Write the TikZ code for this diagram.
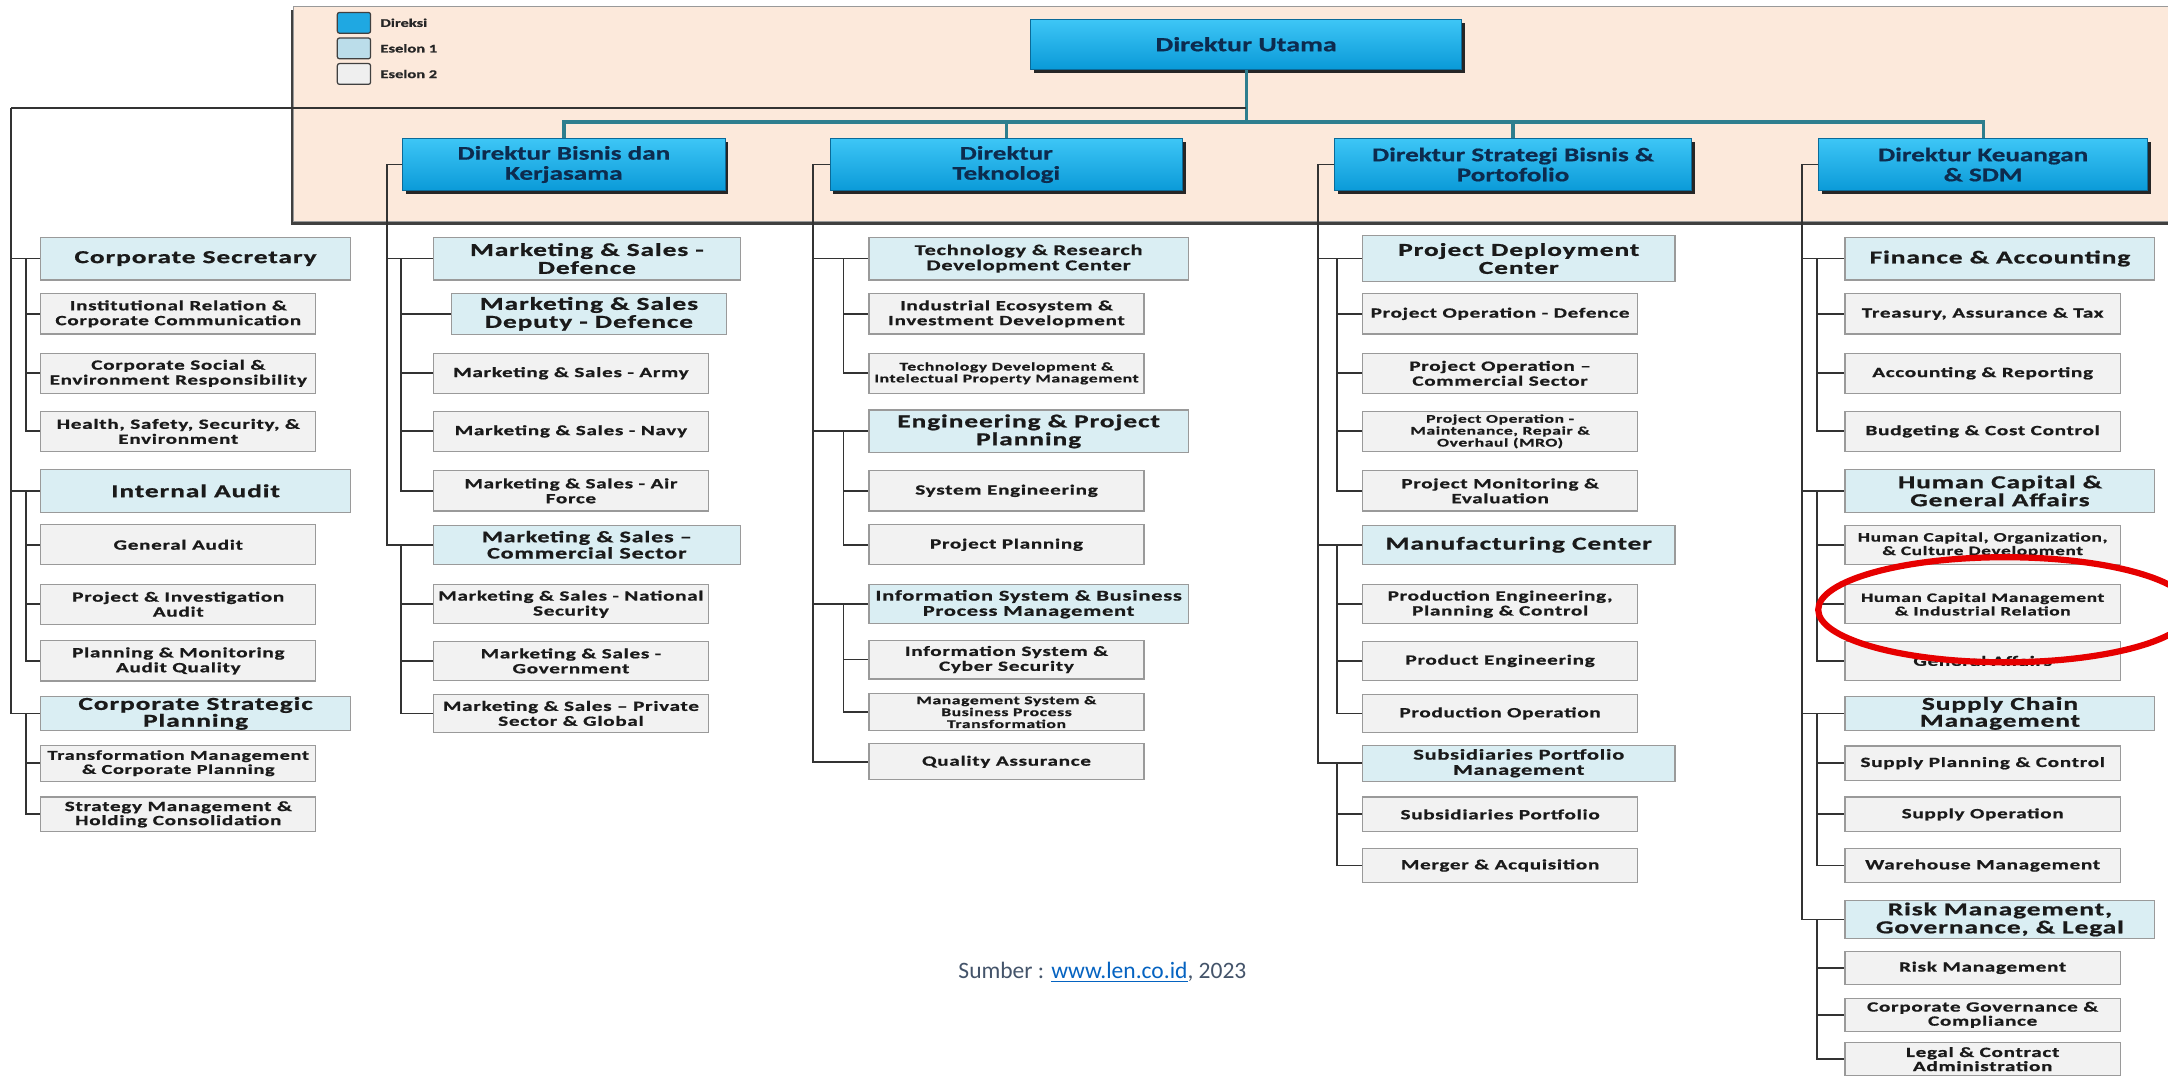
\documentclass[tikz,border=0pt]{standalone}
\usepackage{fontspec}
\usetikzlibrary{shadows}
\newfontfamily\bxfam[FakeStretch=1.5,LetterSpace=5,BoldFeatures={FakeBold=0.9}]{Carlito}
\newfontfamily\dirfam[FakeStretch=1.4,BoldFeatures={FakeBold=0.7}]{Carlito}
\newfontfamily\srcfam{Carlito}
\newcommand\fA{\bxfam\bfseries\fontsize{13.2}{13}\selectfont}
\newcommand\fAm{\bxfam\bfseries\fontsize{11.6}{11.8}\selectfont}
\newcommand\fAs{\bxfam\bfseries\fontsize{10.8}{11}\selectfont}
\newcommand\fB{\bxfam\bfseries\fontsize{10.2}{10.8}\selectfont}
\newcommand\fBm{\bxfam\bfseries\fontsize{9.3}{9.8}\selectfont}
\newcommand\fBs{\bxfam\bfseries\fontsize{8.5}{8.6}\selectfont}
\newcommand\fD{\dirfam\bfseries\fontsize{14}{14.5}\selectfont}
\newcommand\fL{\dirfam\bfseries\fontsize{8.5}{9}\selectfont}
\definecolor{peach}{HTML}{FCE9DB}
\definecolor{eonefill}{HTML}{DAEEF3}
\definecolor{etwofill}{HTML}{F2F2F2}
\definecolor{boxborder}{HTML}{9A9A9A}
\definecolor{linec}{HTML}{333333}
\definecolor{tealc}{HTML}{2E7E8E}
\definecolor{dirtop}{HTML}{3EC6F6}
\definecolor{dirbot}{HTML}{0A9AD8}
\definecolor{dirtext}{HTML}{0D2B4E}
\definecolor{dirborder}{HTML}{0B6A98}
\definecolor{txt}{HTML}{1A1A1A}
\definecolor{legblue}{HTML}{1FA8E2}
\definecolor{legone}{HTML}{BBDDEA}
\definecolor{legtwo}{HTML}{EFEFEF}
\definecolor{srcgray}{HTML}{44546A}
\definecolor{linkblue}{HTML}{0563C1}
\definecolor{redring}{HTML}{E60000}
\begin{document}
\begin{tikzpicture}[x=1pt,y=-1pt,
  base/.style={draw=boxborder, line width=0.9pt, anchor=west, inner sep=0.5pt, align=center, text=txt},
  eone/.style={base, fill=eonefill, minimum width=224pt, minimum height=31pt, font=\fA},
  etwo/.style={base, fill=etwofill, minimum width=199pt, minimum height=29pt, font=\fB},
  dir/.style={draw=dirborder, line width=0.6pt, anchor=west, top color=dirtop, bottom color=dirbot,
    minimum height=38pt, align=center, text=dirtext, font=\fD, inner sep=1pt,
    drop shadow={shadow xshift=2.5pt, shadow yshift=-2.5pt, fill=black!85, opacity=1}},
  leg/.style={draw=black!75, line width=0.9pt, minimum width=24pt, minimum height=15pt, rounded corners=1.5pt, inner sep=0pt},
  legtxt/.style={anchor=west, font=\fL, text=black!85, inner sep=0pt},
  ln/.style={draw=linec, line width=1.3pt},
  tl/.style={draw=tealc, line width=2.4pt}]
\useasboundingbox (0,0) rectangle (1568,781);
\fill[white] (0,0) rectangle (1568,781);
\clip (0,0) rectangle (1568,781);

% header band
\fill[black!75] (210.5,7.5) rectangle (1580,162.5);
\filldraw[fill=peach, draw=gray!80, line width=0.6pt] (212,5) rectangle (1580,160);

% legend
\node[leg, fill=legblue] (l1) at (256,16.5) {};
\node[leg, fill=legone] (l2) at (256,35) {};
\node[leg, fill=legtwo] (l3) at (256,53.5) {};
\node[legtxt] (l1t) at (275,16.5) {Direksi};
\node[legtxt] (l2t) at (275,35) {Eselon 1};
\node[legtxt] (l3t) at (275,53.5) {Eselon 2};

% directors
\node[dir, minimum width=312pt, minimum height=36pt, font=\dirfam\bfseries\fontsize{14.5}{15}\selectfont] (du) at (745,32) {Direktur Utama};
\node[dir, minimum width=233pt] (d1) at (291,119) {Direktur Bisnis dan\\Kerjasama};
\node[dir, minimum width=255pt] (d2) at (600,119) {Direktur\\Teknologi};
\node[dir, minimum width=258pt] (d3) at (965,119) {Direktur Strategi Bisnis \&\\Portofolio};
\node[dir, minimum width=238pt] (d4) at (1315,119) {Direktur Keuangan\\\& SDM};

% column A
\node[eone] (cs) at (29,187) {Corporate Secretary};
\node[etwo] (a1) at (29,227) {Institutional Relation \&\\Corporate Communication};
\node[etwo] (a2) at (29,270) {Corporate Social \&\\Environment Responsibility};
\node[etwo] (a3) at (29,312) {Health, Safety, Security, \&\\Environment};
\node[eone] (ia) at (29,355) {Internal Audit};
\node[etwo] (a4) at (29,394) {General Audit};
\node[etwo] (a5) at (29,437) {Project \& Investigation\\Audit};
\node[etwo] (a6) at (29,478) {Planning \& Monitoring\\Audit Quality};
\node[eone, minimum height=25pt, font=\bxfam\bfseries\fontsize{13.2}{12.2}\selectfont] (csp) at (29,516) {Corporate Strategic\\Planning};
\node[etwo, minimum height=26pt, font=\bxfam\bfseries\fontsize{9.8}{10.2}\selectfont] (a7) at (29,552) {Transformation Management\\\& Corporate Planning};
\node[etwo, minimum height=25pt, font=\bxfam\bfseries\fontsize{10.2}{10.2}\selectfont] (a8) at (29,589) {Strategy Management \&\\Holding Consolidation};

% column B
\node[eone, minimum width=222pt] (b0) at (313,187) {Marketing \& Sales -\\Defence};
\node[eone, minimum width=199pt, minimum height=30pt] (b1) at (326,227) {Marketing \& Sales\\Deputy - Defence};
\node[etwo] (b2) at (313,270) {Marketing \& Sales - Army};
\node[etwo] (b3) at (313,312) {Marketing \& Sales - Navy};
\node[etwo] (b4) at (313,355) {Marketing \& Sales - Air\\Force};
\node[eone, minimum width=222pt, minimum height=28pt, font=\fAm] (bc) at (313,394) {Marketing \& Sales –\\Commercial Sector};
\node[etwo, minimum height=28pt] (b5) at (313,437) {Marketing \& Sales - National\\Security};
\node[etwo, minimum height=28pt] (b6) at (313,478) {Marketing \& Sales -\\Government};
\node[etwo, minimum height=27pt] (b7) at (313,516) {Marketing \& Sales – Private\\Sector \& Global};

% column C
\node[eone, minimum width=231pt, font=\fAs] (c0) at (628,187) {Technology \& Research\\Development Center};
\node[etwo] (c1) at (628,227) {Industrial Ecosystem \&\\Investment Development};
\node[etwo, font=\fBs] (c2) at (628,270) {Technology Development \&\\Intelectual Property Management};
\node[eone, minimum width=231pt] (c3) at (628,312) {Engineering \& Project\\Planning};
\node[etwo] (c4) at (628,355) {System Engineering};
\node[etwo] (c5) at (628,394) {Project Planning};
\node[eone, minimum width=231pt, minimum height=28pt, font=\fAs] (c6) at (628,437) {Information System \& Business\\Process Management};
\node[etwo, minimum height=28pt] (c7) at (628,477) {Information System \&\\Cyber Security};
\node[etwo, minimum height=27pt, font=\fBs] (c8) at (628,515) {Management System \&\\Business Process\\Transformation};
\node[etwo, minimum height=26pt] (c9) at (628,551) {Quality Assurance};

% column D
\node[eone, minimum width=226pt, minimum height=33pt] (p0) at (985,187) {Project Deployment\\Center};
\node[etwo] (p1) at (985,227) {Project Operation - Defence};
\node[etwo] (p2) at (985,270) {Project Operation –\\Commercial Sector};
\node[etwo, font=\fBs] (p3) at (985,312) {Project Operation -\\Maintenance, Repair \&\\Overhaul (MRO)};
\node[etwo] (p4) at (985,355) {Project Monitoring \&\\Evaluation};
\node[eone, minimum width=226pt, minimum height=28pt] (mc) at (985,394) {Manufacturing Center};
\node[etwo, minimum height=28pt] (p5) at (985,437) {Production Engineering,\\Planning \& Control};
\node[etwo, minimum height=28pt] (p6) at (985,478) {Product Engineering};
\node[etwo, minimum height=27pt] (p7) at (985,516) {Production Operation};
\node[eone, minimum width=226pt, minimum height=26pt, font=\fAs] (sp) at (985,552) {Subsidiaries Portfolio\\Management};
\node[etwo, minimum height=25pt] (p8) at (985,589) {Subsidiaries Portfolio};
\node[etwo, minimum height=25pt] (p9) at (985,626) {Merger \& Acquisition};

% column E
\node[eone] (f0) at (1334,187) {Finance \& Accounting};
\node[etwo] (k1) at (1334,227) {Treasury, Assurance \& Tax};
\node[etwo] (k2) at (1334,270) {Accounting \& Reporting};
\node[etwo] (k3) at (1334,312) {Budgeting \& Cost Control};
\node[eone] (hc) at (1334,355) {Human Capital \&\\General Affairs};
\node[etwo, minimum height=28pt, font=\fBm] (k4) at (1334,394) {Human Capital, Organization,\\\& Culture Development};
\node[etwo, minimum height=28pt, font=\fBm] (k5) at (1334,437) {Human Capital Management\\\& Industrial Relation};
\node[etwo, minimum height=28pt] (k6) at (1334,478) {General Affairs};
\node[eone, minimum height=25pt, font=\bxfam\bfseries\fontsize{13.2}{12.2}\selectfont] (sc) at (1334,516) {Supply Chain\\Management};
\node[etwo, minimum height=25pt] (k7) at (1334,552) {Supply Planning \& Control};
\node[etwo, minimum height=25pt] (k8) at (1334,589) {Supply Operation};
\node[etwo, minimum height=25pt] (k9) at (1334,626) {Warehouse Management};
\node[eone, minimum height=27pt, font=\bxfam\bfseries\fontsize{13.2}{13}\selectfont] (rm) at (1334,665) {Risk Management,\\Governance, \& Legal};
\node[etwo, minimum height=24pt] (k10) at (1334,700) {Risk Management};
\node[etwo, minimum height=24pt, font=\bxfam\bfseries\fontsize{10.2}{10.2}\selectfont] (k11) at (1334,734) {Corporate Governance \&\\Compliance};
\node[etwo, minimum height=24pt, font=\bxfam\bfseries\fontsize{10.2}{10.2}\selectfont] (k12) at (1334,766) {Legal \& Contract\\Administration};

% top connectors
\path (du.south) ++(0,38) coordinate (T);
\draw[tl] (du.south) -- (T);
\draw[tl] (d1.north) |- (T);
\draw[tl] (d2.north) |- (T);
\draw[tl] (d3.north) |- (T);
\draw[tl] (d4.north) |- (T);
\coordinate (A0) at (8,78);
\draw[ln] (A0) -- (A0 -| du.south);

% column A connectors
\draw[ln] (A0) |- (cs.west);
\draw[ln] (A0) |- (ia.west);
\draw[ln] (A0) |- (csp.west);
\path (cs.west) ++(-10,0) coordinate (A1);
\path (ia.west) ++(-10,0) coordinate (A2);
\path (csp.west) ++(-10,0) coordinate (A3);
\foreach \n in {a1,a2,a3} \draw[ln] (A1) |- (\n.west);
\foreach \n in {a4,a5,a6} \draw[ln] (A2) |- (\n.west);
\foreach \n in {a7,a8} \draw[ln] (A3) |- (\n.west);

% column B connectors
\path (d1.west) ++(-11,0) coordinate (B0);
\draw[ln] (d1.west) -- (B0) |- (b0.west);
\draw[ln] (B0) |- (bc.west);
\path (b0.west) ++(-23,0) coordinate (B1);
\path (bc.west) ++(-23,0) coordinate (B2);
\foreach \n in {b1,b2,b3,b4} \draw[ln] (B1) |- (\n.west);
\foreach \n in {b5,b6,b7} \draw[ln] (B2) |- (\n.west);

% column C connectors
\path (d2.west) ++(-12,0) coordinate (C0);
\draw[ln] (d2.west) -- (C0) |- (c0.west);
\foreach \n in {c3,c6,c9} \draw[ln] (C0) |- (\n.west);
\path (c0.west) ++(-18,0) coordinate (C1);
\path (c3.west) ++(-18,0) coordinate (C2);
\path (c6.west) ++(-18,0) coordinate (C3);
\foreach \n in {c1,c2} \draw[ln] (C1) |- (\n.west);
\foreach \n in {c4,c5} \draw[ln] (C2) |- (\n.west);
\foreach \n in {c7,c8} \draw[ln] (C3) |- (\n.west);

% column D connectors
\path (d3.west) ++(-12,0) coordinate (D0);
\draw[ln] (d3.west) -- (D0) |- (p0.west);
\foreach \n in {mc,sp} \draw[ln] (D0) |- (\n.west);
\path (p0.west) ++(-18,0) coordinate (D1);
\path (mc.west) ++(-18,0) coordinate (D2);
\path (sp.west) ++(-18,0) coordinate (D3);
\foreach \n in {p1,p2,p3,p4} \draw[ln] (D1) |- (\n.west);
\foreach \n in {p5,p6,p7} \draw[ln] (D2) |- (\n.west);
\foreach \n in {p8,p9} \draw[ln] (D3) |- (\n.west);

% column E connectors
\path (d4.west) ++(-12,0) coordinate (E0);
\draw[ln] (d4.west) -- (E0) |- (f0.west);
\foreach \n in {hc,sc,rm} \draw[ln] (E0) |- (\n.west);
\path (f0.west) ++(-20,0) coordinate (E1);
\path (hc.west) ++(-20,0) coordinate (E2);
\path (sc.west) ++(-20,0) coordinate (E3);
\path (rm.west) ++(-20,0) coordinate (E4);
\foreach \n in {k1,k2,k3} \draw[ln] (E1) |- (\n.west);
\foreach \n in {k4,k5,k6} \draw[ln] (E2) |- (\n.west);
\foreach \n in {k7,k8,k9} \draw[ln] (E3) |- (\n.west);
\foreach \n in {k10,k11,k12} \draw[ln] (E4) |- (\n.west);

% source
\node[anchor=base west, inner sep=0pt, font=\srcfam\fontsize{17}{19}\selectfont, text=srcgray] (src) at (693,708)
  {Sumber : \textcolor{linkblue}{\underline{www.len.co.id}}, 2023};

% red highlight
\draw[redring, line width=4.5pt] (1450,441) ellipse [x radius=135pt, y radius=38pt];
\end{tikzpicture}
\end{document}
